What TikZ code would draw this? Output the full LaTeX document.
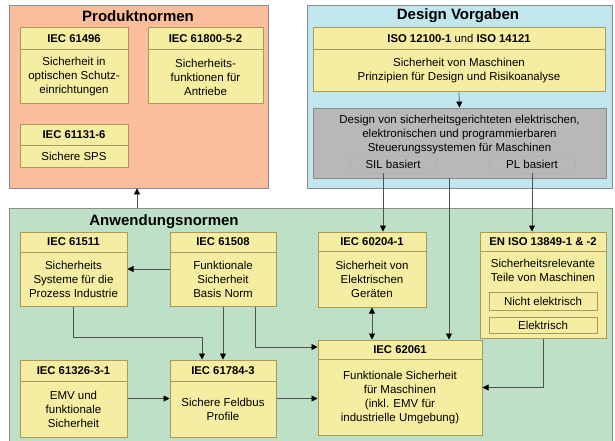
\documentclass[tikz,border=0pt]{standalone}
\usepackage{fontspec}
\setmainfont{Liberation Sans}
\usetikzlibrary{arrows.meta,fit,calc}
\definecolor{prodc}{HTML}{FABE9C}
\definecolor{desc}{HTML}{C2E6EE}
\definecolor{anwc}{HTML}{BEE0C6}
\definecolor{greyc}{HTML}{B8B8B8}
\definecolor{yelc}{HTML}{F5EEA2}
\definecolor{yeledge}{HTML}{A89A5C}
\definecolor{linec}{HTML}{505050}
\tikzset{
  container/.style={draw=black!45, line width=0.8pt, inner sep=0pt},
  nbox/.style={draw=yeledge, fill=yelc, line width=1pt, inner sep=0pt},
  nboxedge/.style={draw=yeledge, line width=0.9pt},
  htext/.style={font=\fontsize{11.3}{12}\selectfont\bfseries, inner sep=0pt},
  btext/.style={font=\fontsize{11.5}{14}\selectfont, align=center, inner sep=0pt},
  ttext/.style={font=\fontsize{15}{17}\selectfont\bfseries, inner sep=0pt},
  graybox/.style={draw=black!45, fill=greyc, line width=0.8pt, inner sep=0pt},
  smallgray/.style={draw=black!30, fill=greyc, line width=0.8pt, inner sep=0pt},
  smallyel/.style={draw=yeledge, fill=yelc, line width=0.9pt, inner sep=0pt},
  stext/.style={font=\fontsize{11.5}{12}\selectfont, inner sep=0pt},
  arr/.style={draw=linec, line width=0.7pt, -{Triangle[length=6pt,width=6pt,color=black]}},
  darr/.style={draw=linec, line width=0.7pt, {Triangle[length=6pt,width=6pt,color=black]}-{Triangle[length=6pt,width=6pt,color=black]}}
}
\newcommand\nbox[8]{%
  \node[nbox, fit={(#2,#3) (#4,#5)}] (#1) {};
  \draw[nboxedge] ($(#1.north west)+(0,#6)$) -- ($(#1.north east)+(0,#6)$);
  \node[htext] (#1-h) at ($(#1.north)+(0,#6/2)$) {#7};
  \node[btext] (#1-b) at ($(#1.north)!0.5!(#1.south)+(0,#6/2)$) {#8};
}
\begin{document}
\begin{tikzpicture}[x=1pt,y=-1pt]
\useasboundingbox (0,0) rectangle (615,441);
\clip (0,0) rectangle (615,441);
\fill[white] (0,0) rectangle (615,441);

% containers
\node[container, fill=prodc, fit={(9,5) (268,188)}] (prod) {};
\node[container, fill=desc, fit={(307,5) (612,188)}] (des) {};
\node[container, fill=anwc, fit={(9,208) (612,446)}] (anw) {};

\node[ttext] (prodt) at (138,16) {Produktnormen};
\node[ttext] (dest) at (458,16) {Design Vorgaben};
\node[ttext] (anwt) at (164,222) {Anwendungsnormen};

% Produktnormen
\nbox{n61496}{20}{28}{128}{104}{22}{IEC 61496}{Sicherheit in\\optischen Schutz-\\einrichtungen}
\nbox{n61800}{148}{28}{263}{104}{22}{IEC 61800-5-2}{Sicherheits-\\funktionen für\\Antriebe}
\nbox{n61131}{20}{124}{128}{167}{22}{IEC 61131-6}{Sichere SPS}

% Design Vorgaben
\nbox{iso}{313}{28}{605}{92}{22}{ISO 12100-1 \textmd{und} ISO 14121}{\baselineskip=15.5pt Sicherheit von Maschinen\\Prinzipien für Design und Risikoanalyse}
\node[graybox, fit={(313,108) (606,178)}] (grey) {};
\node[btext] (greyt) at (459.5,135) {Design von sicherheitsgerichteten elektrischen,\\elektronischen und programmierbaren\\Steuerungssystemen für Maschinen};
\node[smallgray, fit={(350,156) (436,173)}] (sil) {};
\node[stext] (silt) at (sil.center) {SIL basiert};
\node[smallgray, fit={(489,156) (575,173)}] (pl) {};
\node[stext] (plt) at (pl.center) {PL basiert};

% Anwendungsnormen
\nbox{n61511}{20}{232}{127}{306}{21}{IEC 61511}{Sicherheits\\Systeme für die\\Prozess Industrie}
\nbox{n61508}{170}{232}{276}{306}{21}{IEC 61508}{Funktionale\\Sicherheit\\Basis Norm}
\nbox{n60204}{318}{232}{426}{307}{20}{IEC 60204-1}{Sicherheit von\\Elektrischen\\Geräten}
\node[nbox, fit={(480,232) (606,338)}] (eniso) {};
\draw[nboxedge] ($(eniso.north west)+(0,20)$) -- ($(eniso.north east)+(0,20)$);
\node[htext] (eniso-h) at ($(eniso.north)+(0,10)$) {EN ISO 13849-1 \& -2};
\node[btext] (eniso-b) at (543,270.5) {Sicherheitsrelevante\\Teile von Maschinen};
\node[smallyel, fit={(489,292) (597,310)}] (nel) {};
\node[stext] (nelt) at (nel.center) {Nicht elektrisch};
\node[smallyel, fit={(489,317) (597,333)}] (el) {};
\node[stext] (elt) at (el.center) {Elektrisch};
\nbox{n61326}{20}{360}{127}{437}{22}{IEC 61326-3-1}{EMV und\\funktionale\\Sicherheit}
\nbox{n61784}{170}{360}{276}{437}{22}{IEC 61784-3}{Sichere Feldbus\\Profile}
\nbox{n62061}{318}{340}{482}{435}{20}{IEC 62061}{Funktionale Sicherheit\\für Maschinen\\(inkl. EMV für\\industrielle Umgebung)}

% helper coordinates
\coordinate (x137) at (137,0);
\coordinate (x383) at (383,0);
\coordinate (x449) at (449,0);
\coordinate (x202) at (202,0);
\coordinate (x255) at (255,0);
\coordinate (y347) at (0,347);

% connectors
\draw[arr] (anw.north -| x137) -- (prod.south -| x137);
\draw[arr] (iso.south) -- (grey.north);
\draw[arr] (sil.south -| x383) -- (n60204.north -| x383);
\draw[arr] (grey.south -| x449) -- (n62061.north -| x449);
\draw[arr] (pl.south) -- (eniso.north -| pl.south);
\draw[arr] (n61508.west) -- (n61511.east);
\draw[arr] (n61511.south) -- ++(0,31) -| (n61784.north -| x202);
\draw[arr] (n61508.south) -- (n61784.north);
\draw[arr] (n61508.south -| x255) |- (n62061.west |- y347);
\draw[arr] (n61326.east) -- (n61784.west);
\draw[arr] (n61784.east) -- (n61784.east -| n62061.west);
\draw[darr] (n60204.south) -- (n60204.south |- n62061.north);
\draw[arr] (eniso.south) |- (n62061.east);
\end{tikzpicture}
\end{document}
